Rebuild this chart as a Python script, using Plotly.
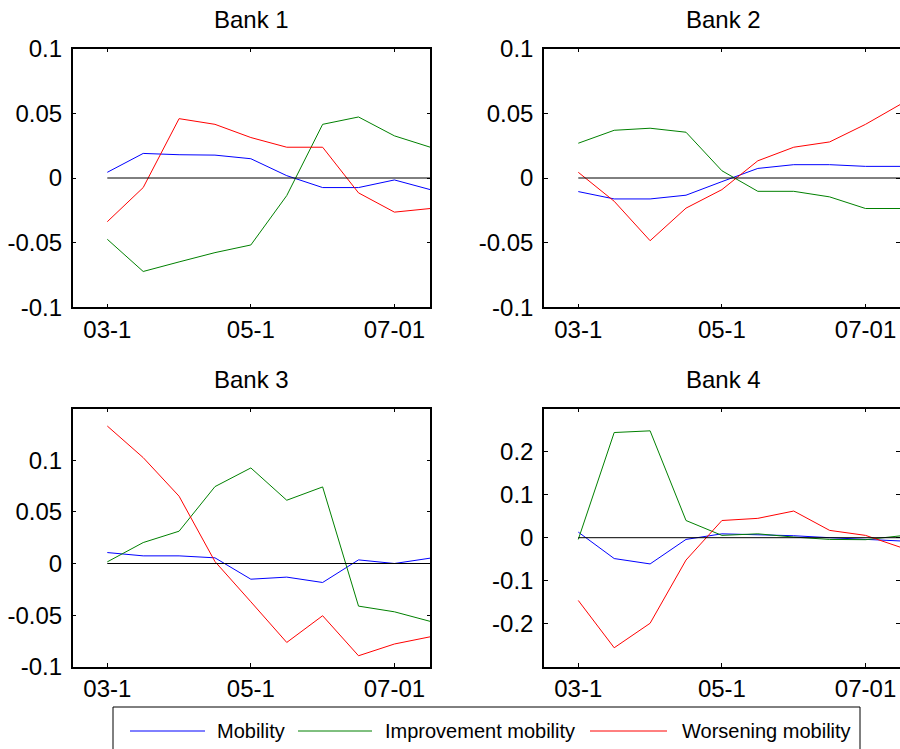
import plotly.graph_objects as go

# ---- data -------------------------------------------------------------
periods = ["03-1", "03-2", "04-1", "04-2", "05-1", "05-2", "06-1", "06-2", "07-01", "07-2"]
x_tick_labels = ["03-1", "05-1", "07-01"]

bank1_mobility = [0.0044, 0.019, 0.018, 0.0177, 0.0149, 0.0018, -0.0074, -0.0074, -0.0015, -0.009]
bank1_improve = [-0.0474, -0.0723, -0.0649, -0.0577, -0.0518, -0.0136, 0.0415, 0.0472, 0.0326, 0.0238]
bank1_worsen = [-0.0338, -0.0074, 0.0459, 0.0415, 0.0313, 0.0238, 0.0238, -0.0115, -0.0264, -0.0236]

bank2_mobility = [-0.0105, -0.0162, -0.0162, -0.0133, -0.0028, 0.0074, 0.0103, 0.0103, 0.009, 0.009]
bank2_improve = [0.0269, 0.0369, 0.0385, 0.0354, 0.0056, -0.0103, -0.0103, -0.0146, -0.0236, -0.0236]
bank2_worsen = [0.0044, -0.018, -0.0485, -0.0233, -0.009, 0.0133, 0.0238, 0.0279, 0.0415, 0.0574]

bank3_mobility = [0.0106, 0.0074, 0.0074, 0.0055, -0.0152, -0.0132, -0.0184, 0.0035, 0.0, 0.0052]
bank3_improve = [0.0016, 0.0203, 0.0313, 0.0745, 0.0926, 0.0613, 0.0742, -0.0413, -0.0468, -0.0561]
bank3_worsen = [0.1332, 0.1026, 0.0652, 0.0019, -0.0371, -0.0765, -0.0506, -0.0894, -0.078, -0.071]

bank4_mobility = [0.013, -0.0485, -0.061, -0.004, 0.009, 0.007, 0.0046, 0.0, -0.003, -0.0077]
bank4_improve = [-0.004, 0.2446, 0.2485, 0.04, 0.0054, 0.009, 0.0015, -0.004, -0.0046, 0.0046]
bank4_worsen = [-0.146, -0.256, -0.199, -0.052, 0.04, 0.045, 0.062, 0.017, 0.0054, -0.023]

baseline = [0.0] * len(periods)

series_names = ["Mobility", "Improvement mobility", "Worsening mobility"]
series_colors = ["#0000FF", "#008000", "#FF0000"]

bank_titles = ["Bank 1", "Bank 2", "Bank 3", "Bank 4"]
yticks_small = [-0.1, -0.05, 0, 0.05, 0.1]
yticks_small_text = ["-0.1", "-0.05", "0", "0.05", "0.1"]
yticks_big = [-0.2, -0.1, 0, 0.1, 0.2]
yticks_big_text = ["-0.2", "-0.1", "0", "0.1", "0.2"]

banks = [
    (bank1_mobility, bank1_improve, bank1_worsen),
    (bank2_mobility, bank2_improve, bank2_worsen),
    (bank3_mobility, bank3_improve, bank3_worsen),
    (bank4_mobility, bank4_improve, bank4_worsen),
]

# ---- layout geometry ----------------------------------------------------
W, H = 900, 749
FONT = "Liberation Sans, Arial, sans-serif"

x_domains = [[72.7 / W, 430.3 / W], [544 / W, 1.0]]
x_ranges = [[-0.964, 9.0], [-0.955, 8.96]]
y_domains = [[1 - 307.3 / H, 1 - 48.7 / H], [1 - 666.7 / H, 1 - 408.7 / H]]
y_ranges = [[-0.1, 0.1], [-0.1, 0.1], [-0.1, 0.15], [-0.3, 0.3]]
y_tickvals = [yticks_small, yticks_small, yticks_small, yticks_big]
y_ticktext = [yticks_small_text, yticks_small_text, yticks_small_text, yticks_big_text]

fig = go.Figure()
layout = dict(
    width=W, height=H,
    margin=dict(l=0, r=0, t=0, b=0, autoexpand=False),
    paper_bgcolor="white", plot_bgcolor="white",
    font=dict(family=FONT, size=24, color="black"),
    showlegend=False,
)

annotations = []
shapes = []
for i, (data, title) in enumerate(zip(banks, bank_titles)):
    row, col = divmod(i, 2)
    xa = "x" if i == 0 else f"x{i+1}"
    ya = "y" if i == 0 else f"y{i+1}"
    for s, (vals, name, color) in enumerate(zip(data, series_names, series_colors)):
        fig.add_trace(go.Scatter(
            x=periods, y=vals, mode="lines", name=name,
            line=dict(color=color, width=1),
            xaxis=xa, yaxis=ya,
        ))
    fig.add_trace(go.Scatter(
        x=periods, y=baseline, mode="lines", line=dict(color="black", width=1),
        xaxis=xa, yaxis=ya, hoverinfo="skip", name="zero",
    ))
    xkey = "xaxis" if i == 0 else f"xaxis{i+1}"
    ykey = "yaxis" if i == 0 else f"yaxis{i+1}"
    layout[xkey] = dict(
        domain=x_domains[col], range=x_ranges[col], anchor=ya,
        type="category", categoryorder="array", categoryarray=periods,
        tickmode="array", tickvals=x_tick_labels, ticktext=x_tick_labels,
        ticks="inside", ticklen=4, tickcolor="black",
        showline=True, linecolor="black", linewidth=1.5, mirror="ticks",
        showgrid=False, zeroline=False, tickfont=dict(size=24),
        automargin=False,
    )
    layout[ykey] = dict(
        domain=y_domains[row], range=y_ranges[i], anchor=xa,
        tickmode="array", tickvals=y_tickvals[i], ticktext=y_ticktext[i],
        ticks="inside", ticklen=4, tickcolor="black",
        showline=True, linecolor="black", linewidth=1.5, mirror="ticks",
        showgrid=False, zeroline=False, tickfont=dict(size=24),
        ticklabelstandoff=4, automargin=False,
    )
    xc = (x_domains[col][0] + (x_domains[col][1] if col == 0 else 902.3 / W)) / 2
    annotations.append(dict(
        text=title, x=xc, y=y_domains[row][1], xref="paper", yref="paper",
        xanchor="center", yanchor="bottom", yshift=14, showarrow=False,
        font=dict(size=24, family=FONT, color="black"),
    ))

# ---- legend box (drawn as layout decoration) -----------------------------
leg_top = 1 - 707 / H
leg_mid = 1 - 731 / H
shapes.append(dict(type="rect", xref="paper", yref="paper",
                   x0=113 / W, x1=860 / W, y0=-20 / H, y1=leg_top,
                   line=dict(color="black", width=1), fillcolor="white", layer="above"))
leg_line_x = [(130, 205), (298, 372), (590, 667)]
leg_text_x = [215, 383, 680]
for (x0, x1), tx, name, color in zip(leg_line_x, leg_text_x, series_names, series_colors):
    shapes.append(dict(type="line", xref="paper", yref="paper",
                       x0=x0 / W, x1=x1 / W, y0=leg_mid, y1=leg_mid,
                       line=dict(color=color, width=1), layer="above"))
    annotations.append(dict(
        text=name, x=tx / W, y=leg_mid, xref="paper", yref="paper",
        xanchor="left", yanchor="middle", showarrow=False,
        font=dict(size=20, family=FONT, color="black"),
    ))

layout["annotations"] = annotations
layout["shapes"] = shapes
fig.update_layout(**layout)
fig.write_html("out.html")
